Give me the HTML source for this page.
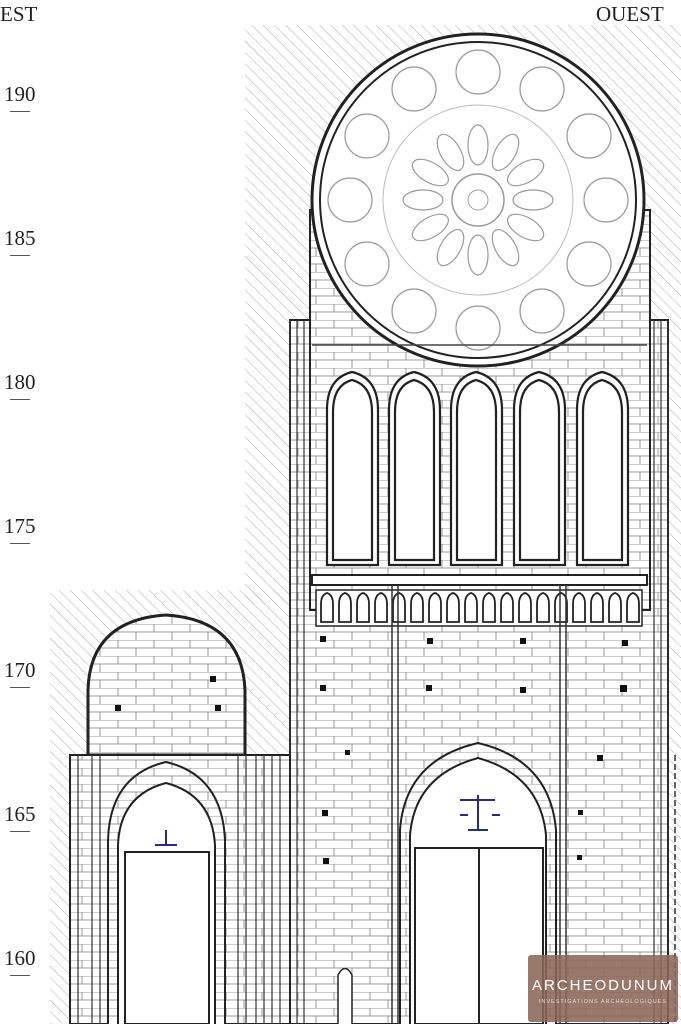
<!DOCTYPE html>
<html><head><meta charset="utf-8"><style>
html,body{margin:0;padding:0;background:#fff}
body{width:681px;height:1024px;overflow:hidden;position:relative;font-family:"Liberation Serif",serif}
.lab{position:absolute;left:4px;font-size:21px;color:#222}
.dash{position:absolute;left:10px;width:20px;height:1px;background:#555}
</style></head><body>
<svg width="681" height="1024" style="position:absolute;left:0;top:0">
<defs>
<pattern id="h" width="8" height="8" patternUnits="userSpaceOnUse" patternTransform="rotate(-45)">
<line x1="0" y1="0" x2="0" y2="8" stroke="#aaa" stroke-width="1"/></pattern>
<pattern id="b" width="36" height="16" patternUnits="userSpaceOnUse">
<rect width="36" height="16" fill="#fff"/>
<path d="M0 0H36M0 8H36M10 0V8M28 8V16" stroke="#999" stroke-width="1" fill="none"/></pattern>
<pattern id="arc" x="318" y="590" width="18" height="36" patternUnits="userSpaceOnUse">
<rect width="18" height="36" fill="#fff"/>
<path d="M3 32V14Q3 5 9 3Q15 5 15 14V32Z" fill="#fff" stroke="#222" stroke-width="1.8"/></pattern>
<g id="circ"><circle r="22" fill="#fff" stroke="#999" stroke-width="1.2"/></g>
<g id="petal"><ellipse rx="10" ry="20" fill="#fff" stroke="#999" stroke-width="1.2"/></g>
</defs>
<rect x="245" y="25" width="436" height="580" fill="url(#h)"/>
<rect x="50" y="590" width="631" height="434" fill="url(#h)"/>
<rect x="290" y="320" width="378" height="704" fill="url(#b)" stroke="#222" stroke-width="2"/>
<rect x="310" y="210" width="340" height="400" fill="url(#b)" stroke="#222" stroke-width="2"/>
<path d="M290 320V1024M297 320V1024M304 320V1024M661 320V1024M654 320V1024M668 320V1024" stroke="#333" stroke-width="1.2"/>
<circle cx="478" cy="200" r="166" fill="#fff" stroke="#222" stroke-width="3"/>
<circle cx="478" cy="200" r="158" fill="#fff" stroke="#222" stroke-width="2"/>
<g transform="translate(478,200)" >
<use href="#circ" x="0" y="-128"/><use href="#circ" x="64" y="-111"/><use href="#circ" x="111" y="-64"/><use href="#circ" x="128" y="0"/><use href="#circ" x="111" y="64"/><use href="#circ" x="64" y="111"/><use href="#circ" x="0" y="128"/><use href="#circ" x="-64" y="111"/><use href="#circ" x="-111" y="64"/><use href="#circ" x="-128" y="0"/><use href="#circ" x="-111" y="-64"/><use href="#circ" x="-64" y="-111"/>
<circle r="95" fill="none" stroke="#bbb"/>
<use href="#petal" transform="rotate(0) translate(0,-55)"/><use href="#petal" transform="rotate(30) translate(0,-55)"/><use href="#petal" transform="rotate(60) translate(0,-55)"/><use href="#petal" transform="rotate(90) translate(0,-55)"/><use href="#petal" transform="rotate(120) translate(0,-55)"/><use href="#petal" transform="rotate(150) translate(0,-55)"/><use href="#petal" transform="rotate(180) translate(0,-55)"/><use href="#petal" transform="rotate(210) translate(0,-55)"/><use href="#petal" transform="rotate(240) translate(0,-55)"/><use href="#petal" transform="rotate(270) translate(0,-55)"/><use href="#petal" transform="rotate(300) translate(0,-55)"/><use href="#petal" transform="rotate(330) translate(0,-55)"/>
<circle r="26" fill="#fff" stroke="#999" stroke-width="1.5"/><circle r="10" fill="none" stroke="#999"/>
</g>
<g fill="#fff" stroke="#222" stroke-width="2.2">
<path d="M327 565V410Q327 378 352 372Q378 378 378 410V565Z"/><path d="M333 560V412Q333 385 352 380Q372 385 372 412V560Z"/>
<path d="M389 565V410Q389 378 414 372Q440 378 440 410V565Z"/><path d="M395 560V412Q395 385 414 380Q434 385 434 412V560Z"/>
<path d="M451 565V410Q451 378 476 372Q502 378 502 410V565Z"/><path d="M457 560V412Q457 385 476 380Q496 385 496 412V560Z"/>
<path d="M514 565V410Q514 378 539 372Q565 378 565 410V565Z"/><path d="M520 560V412Q520 385 539 380Q559 385 559 412V560Z"/>
<path d="M577 565V410Q577 378 602 372Q628 378 628 410V565Z"/><path d="M583 560V412Q583 385 602 380Q622 385 622 412V560Z"/>
</g>
<path d="M312 345H647" stroke="#444" stroke-width="1.5"/>
<rect x="312" y="575" width="335" height="10" fill="#fff" stroke="#222" stroke-width="2"/>
<rect x="316" y="590" width="326" height="36" fill="url(#arc)" stroke="#222" stroke-width="1.5"/>
<path d="M392 585V1024M398 585V1024M560 585V1024M566 585V1024" stroke="#333" stroke-width="1.5"/>
<path d="M400 1024V830Q405 760 478 743Q550 760 556 830V1024" fill="url(#b)" stroke="#222" stroke-width="2"/>
<path d="M410 1024V835Q415 775 478 758Q540 775 546 835V1024" fill="#fff" stroke="#222" stroke-width="2"/>
<rect x="415" y="848" width="128" height="176" fill="#fff" stroke="#222" stroke-width="2"/>
<line x1="479" y1="848" x2="479" y2="1024" stroke="#222" stroke-width="2"/>
<path d="M460 800h35M478 795v35M468 830h20M460 815h8M492 815h8" stroke="#2a2a8a" stroke-width="2"/>
<path d="M88 755V690Q90 620 166 615Q242 620 245 690V755Z" fill="url(#b)" stroke="#222" stroke-width="3"/>
<rect x="70" y="755" width="220" height="269" fill="url(#b)" stroke="#222" stroke-width="2"/>
<path d="M78 755V1024M92 755V1024M100 755V1024M238 755V1024M246 755V1024M256 755V1024M264 755V1024M272 755V1024M280 755V1024" stroke="#333" stroke-width="1.2"/>
<path d="M108 1024V840Q110 775 166 762Q222 775 225 840V1024" fill="url(#b)" stroke="#222" stroke-width="2"/>
<path d="M118 1024V845Q120 795 166 783Q212 795 215 845V1024" fill="#fff" stroke="#222" stroke-width="2"/>
<rect x="125" y="852" width="84" height="172" fill="#fff" stroke="#222" stroke-width="2"/>
<path d="M155 845h22M166 830v15" stroke="#2a2a8a" stroke-width="2"/>
<path d="M338 1024V975Q345 962 352 975V1024" fill="#fff" stroke="#222" stroke-width="1.5"/>
<g fill="#111">
<rect x="320" y="636" width="6" height="6"/><rect x="427" y="638" width="6" height="6"/><rect x="520" y="638" width="6" height="6"/><rect x="622" y="640" width="6" height="6"/>
<rect x="320" y="685" width="6" height="6"/><rect x="426" y="685" width="6" height="6"/><rect x="520" y="687" width="6" height="6"/><rect x="620" y="685" width="7" height="7"/>
<rect x="345" y="750" width="5" height="5"/><rect x="597" y="755" width="6" height="6"/><rect x="322" y="810" width="6" height="6"/><rect x="578" y="810" width="5" height="5"/><rect x="323" y="858" width="6" height="6"/><rect x="577" y="855" width="5" height="5"/>
<rect x="115" y="705" width="6" height="6"/><rect x="210" y="676" width="6" height="6"/><rect x="215" y="705" width="6" height="6"/>
</g>
<path d="M675 755V1024" stroke="#333" stroke-width="1.5" stroke-dasharray="6 3"/>
<rect x="528" y="955" width="150" height="67" rx="3" fill="#8a6656" opacity=".88"/>
<text x="603" y="990" text-anchor="middle" fill="#fff" font-family="Liberation Sans,sans-serif" font-size="15" letter-spacing="2">ARCHEODUNUM</text>
<text x="603" y="1003" text-anchor="middle" fill="#e8ddd6" font-family="Liberation Sans,sans-serif" font-size="5.5" letter-spacing="1">INVESTIGATIONS ARCHÉOLOGIQUES</text>
</svg>
<div class="lab" style="top:2px;left:0">EST</div>
<div class="lab" style="top:2px;left:596px">OUEST</div>
<div class="lab" style="top:82px">190</div><div class="dash" style="top:111px"></div>
<div class="lab" style="top:226px">185</div><div class="dash" style="top:255px"></div>
<div class="lab" style="top:370px">180</div><div class="dash" style="top:399px"></div>
<div class="lab" style="top:514px">175</div><div class="dash" style="top:543px"></div>
<div class="lab" style="top:658px">170</div><div class="dash" style="top:687px"></div>
<div class="lab" style="top:802px">165</div><div class="dash" style="top:831px"></div>
<div class="lab" style="top:946px">160</div><div class="dash" style="top:975px"></div>
</body></html>
